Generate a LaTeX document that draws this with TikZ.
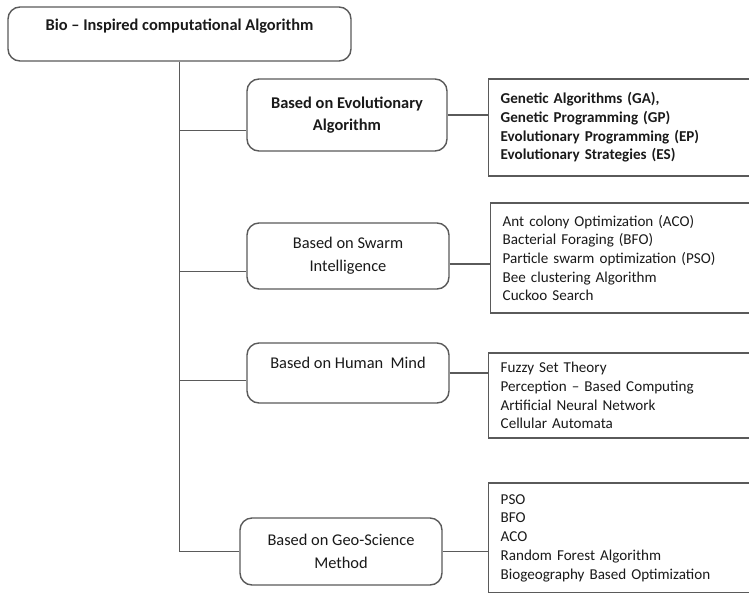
\documentclass[tikz,border=0pt]{standalone}
\usepackage{fontspec}
\setmainfont{Carlito}
\usetikzlibrary{calc}
\definecolor{linegray}{HTML}{5A5A5A}
\definecolor{ink}{HTML}{1A1A1A}
\begin{document}
\begin{tikzpicture}[x=1pt,y=-1pt,
  every node/.style={text=ink},
  line/.style={draw=linegray, line width=1.4pt},
  catbox/.style={line, rounded corners=12pt, align=center, inner sep=0pt,
    minimum width=202pt, font=\fontsize{16.4}{23}\selectfont},
  listbox/.style={line, align=left, anchor=west, inner xsep=12pt, inner ysep=0pt,
    text width=260pt, font=\fontsize{15.1}{18.7}\selectfont}]
\clip (0,0) rectangle (749,592);
\fill[white] (0,0) rectangle (749,592);

% root of the classification
\node[catbox, minimum width=343pt, minimum height=54pt] (root) at (179.5,34)
  {\bfseries Bio -- Inspired computational Algorithm\\[-5pt]\mbox{}};

% category boxes
\node[catbox, minimum width=200pt, minimum height=72pt] (evo) at (347,115)
  {\bfseries Based on Evolutionary\\[-1pt]\bfseries Algorithm};
\node[catbox, minimum height=66pt] (swarm) at (348,256)
  {Based on Swarm\\Intelligence};
\node[catbox, minimum height=60pt] (mind) at (348,373)
  {Based on Human\ \ Mind\\[-3pt]\mbox{}};
\node[catbox, minimum height=67pt] (geo) at (341,551.5)
  {Based on Geo-Science\\Method};

% method lists
\node[listbox, minimum height=97pt] (evolist) at (488,127.5)
  {\bfseries Genetic Algorithms (GA),\\\bfseries Genetic Programming (GP)\\
   \bfseries Evolutionary Programming (EP)\\\bfseries Evolutionary Strategies (ES)};
\node[listbox, minimum height=110pt] (swarmlist) at (490,258)
  {Ant colony Optimization (ACO)\\Bacterial Foraging (BFO)\\
   Particle swarm optimization (PSO)\\Bee clustering Algorithm\\Cuckoo Search};
\node[listbox, minimum height=85pt] (mindlist) at (488,395.5)
  {Fuzzy Set Theory\\Perception -- Based Computing\\
   Artificial Neural Network\\Cellular Automata};
\node[listbox, minimum height=110pt] (geolist) at (488,538)
  {PSO\\BFO\\ACO\\Random Forest Algorithm\\Biogeography Based Optimization};

% trunk and branches
\coordinate (j1) at ($(evo.south west)!0.29!(evo.north west)$);
\coordinate (j2) at ($(swarm.south west)!0.27!(swarm.north west)$);
\coordinate (j3) at ($(mind.south west)!0.38!(mind.north west)$);
\draw[line] (root.south) |- (geo.west);
\draw[line] (root.south |- j1) -- (j1);
\draw[line] (root.south |- j2) -- (j2);
\draw[line] (root.south |- j3) -- (j3);

% links to the method lists
\draw[line] (evo.east) -- (evo.east -| evolist.west);
\coordinate (k2) at ($(swarm.east)+(0,8)$);
\draw[line] (k2) -- (k2 -| swarmlist.west);
\draw[line] (mind.east) -- (mind.east -| mindlist.west);
\draw[line] (geo.east) -- (geo.east -| geolist.west);
\end{tikzpicture}
\end{document}
